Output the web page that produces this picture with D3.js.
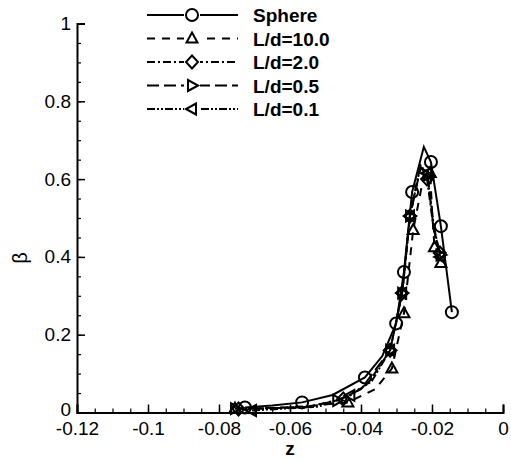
<!DOCTYPE html>
<html>
<head>
<meta charset="utf-8">
<script src="https://cdn.jsdelivr.net/npm/d3@7"></script>
<style>
	body { margin: 0; background: #fff; }
	text { font-family: "Liberation Sans", Arial, sans-serif; }
</style>
</head>
<body>
<div id="viz"></div>
<script>
// data
let seriesNames = ["Sphere", "L/d=10.0", "L/d=2.0", "L/d=0.5", "L/d=0.1"];

let sphereZ    = [-0.0727, -0.065, -0.0566, -0.048, -0.0389, -0.034, -0.0301, -0.0279, -0.0256, -0.0223, -0.0203, -0.0175, -0.0144];
let sphereBeta = [0.013, 0.018, 0.026, 0.045, 0.090, 0.145, 0.229, 0.361, 0.567, 0.683, 0.644, 0.479, 0.258];
let sphereMarks = [0, 2, 4, 6, 7, 8, 10, 11, 12];

let ld10Z    = [-0.0755, -0.065, -0.055, -0.0437, -0.036, -0.0313, -0.0279, -0.0253, -0.0225, -0.0205, -0.0200, -0.0193, -0.0175];
let ld10Beta = [0.010, 0.012, 0.016, 0.026, 0.060, 0.113, 0.255, 0.469, 0.600, 0.616, 0.520, 0.425, 0.384];
let ld10Marks = [0, 3, 5, 6, 7, 9, 11, 12];

let ld2Z    = [-0.0745, -0.065, -0.055, -0.045, -0.038, -0.0318, -0.0284, -0.0262, -0.0235, -0.0214, -0.0195, -0.0178];
let ld2Beta = [0.009, 0.011, 0.015, 0.035, 0.075, 0.160, 0.307, 0.505, 0.625, 0.600, 0.470, 0.410];
let ld2Marks = [0, 3, 5, 6, 7, 9, 11];

let ld05Z    = [-0.0755, -0.065, -0.055, -0.0467, -0.040, -0.0318, -0.0284, -0.0262, -0.0232, -0.0212, -0.0195, -0.0176];
let ld05Beta = [0.010, 0.011, 0.014, 0.031, 0.060, 0.160, 0.307, 0.505, 0.630, 0.610, 0.470, 0.405];
let ld05Marks = [0, 3, 5, 6, 7, 9, 11];

let ld01Z    = [-0.0707, -0.062, -0.052, -0.043, -0.037, -0.0318, -0.0284, -0.0262, -0.0232, -0.0214, -0.0195, -0.0177];
let ld01Beta = [0.005, 0.010, 0.015, 0.044, 0.080, 0.160, 0.307, 0.505, 0.635, 0.615, 0.480, 0.400];
let ld01Marks = [0, 3, 5, 6, 7, 9, 11];

let xTicks = [-0.12, -0.1, -0.08, -0.06, -0.04, -0.02, 0];
let yTicks = [0, 0.2, 0.4, 0.6, 0.8, 1];

function draw() {
	let sizeX = 511, sizeY = 461;
	let left = 77, right = 503, top = 23.5, bottom = 412.5;

	let grph = d3.select("#viz").append("svg")
		.attr("width", sizeX).attr("height", sizeY);

	let x = d3.scaleLinear().domain([-0.12, 0]).range([left, right]);
	let y = d3.scaleLinear().domain([0, 1]).range([bottom, top]);

	// axes, ticks pointing inward
	let xMinor = d3.range(-0.12, 0.0001, 0.005).map(v => +v.toFixed(3));
	let yMinor = d3.range(0, 1.0001, 0.05).map(v => +v.toFixed(2));

	let xa = grph.append("g").attr("transform", "translate(0," + bottom + ")");
	xa.call(d3.axisBottom(x).tickValues(xMinor).tickSize(-4).tickFormat(""));
	xa.call(g => g.selectAll(".tick line").attr("stroke-width", 1.2));
	let xb = grph.append("g").attr("transform", "translate(0," + bottom + ")");
	xb.call(d3.axisBottom(x).tickValues(xTicks).tickSize(-8).tickPadding(9)
		.tickFormat(d => d === 0 ? "0" : String(d)));
	xb.select(".domain").attr("stroke-width", 2);
	xb.selectAll(".tick line").attr("stroke-width", 1.5);
	xb.selectAll(".tick text").attr("font-size", 19).attr("fill", "#000")
		.attr("font-family", "Liberation Sans, Arial, sans-serif");

	let ya = grph.append("g").attr("transform", "translate(" + left + ",0)");
	ya.call(d3.axisLeft(y).tickValues(yMinor).tickSize(-4).tickFormat(""));
	ya.call(g => g.selectAll(".tick line").attr("stroke-width", 1.2));
	let yb = grph.append("g").attr("transform", "translate(" + left + ",0)");
	yb.call(d3.axisLeft(y).tickValues(yTicks).tickSize(-8).tickPadding(6)
		.tickFormat(d => String(d)));
	yb.select(".domain").attr("stroke-width", 2);
	yb.selectAll(".tick line").attr("stroke-width", 1.5);
	yb.selectAll(".tick text").attr("font-size", 19).attr("fill", "#000")
		.attr("font-family", "Liberation Sans, Arial, sans-serif");
	// lift the "0" a little so it clears the x labels
	yb.selectAll(".tick text").filter(d => d === 0).attr("dy", "0.15em");

	grph.selectAll(".domain").attr("stroke", "#000");

	grph.append("text").text("z")
		.attr("x", 290).attr("y", 455)
		.attr("text-anchor", "middle")
		.style("font-size", "19px").style("font-weight", "bold");

	grph.append("text").text("β")
		.attr("transform", "translate(27,258) rotate(-90)")
		.attr("text-anchor", "middle")
		.style("font-size", "20px");

	// series
	let series = [
		{ z: sphereZ, b: sphereBeta, marks: sphereMarks, dash: null, sym: "circle" },
		{ z: ld10Z, b: ld10Beta, marks: ld10Marks, dash: "8,7", sym: "triUp" },
		{ z: ld2Z, b: ld2Beta, marks: ld2Marks, dash: "8,3,2,3", sym: "diamond" },
		{ z: ld05Z, b: ld05Beta, marks: ld05Marks, dash: "12,5", sym: "triRight" },
		{ z: ld01Z, b: ld01Beta, marks: ld01Marks, dash: "8,2,2,2,2,2", sym: "triLeft" }
	];

	function symbolPath(sym) {
		if (sym === "triUp") return "M0,-6L5.5,4L-5.5,4Z";
		if (sym === "triRight") return "M6,0L-4,5.5L-4,-5.5Z";
		if (sym === "triLeft") return "M-6,0L4,5.5L4,-5.5Z";
		if (sym === "diamond") return "M0,-6.5L6,0L0,6.5L-6,0Z";
	}

	function addMarker(g, sym, cx, cy) {
		if (sym === "circle") {
			g.append("circle").attr("cx", cx).attr("cy", cy).attr("r", 6)
				.attr("fill", "none").attr("stroke", "#000").attr("stroke-width", 2);
		} else {
			g.append("path").attr("d", symbolPath(sym))
				.attr("transform", "translate(" + cx + "," + cy + ")")
				.attr("fill", "none").attr("stroke", "#000").attr("stroke-width", 2);
		}
	}

	let line = d3.line().x(d => x(d[0])).y(d => y(d[1]));

	series.slice().reverse().forEach(s => {
		let pts = s.z.map((v, i) => [v, s.b[i]]);
		let g = grph.append("g");
		g.append("path").attr("d", line(pts))
			.attr("fill", "none").attr("stroke", "#000").attr("stroke-width", 2)
			.attr("stroke-dasharray", s.dash);
		s.marks.forEach(i => addMarker(g, s.sym, x(pts[i][0]), y(pts[i][1])));
	});

	// legend
	let legY = d3.scaleLinear().domain([0, 4]).range([15, 109]);
	series.forEach((s, i) => {
		let g = grph.append("g");
		let ly = legY(i);
		g.append("line").attr("x1", 147).attr("y1", ly).attr("x2", 238).attr("y2", ly)
			.attr("stroke", "#000").attr("stroke-width", 2)
			.attr("stroke-dasharray", s.dash);
		g.append("rect").attr("x", 184).attr("y", ly - 8).attr("width", 16).attr("height", 16)
			.attr("fill", "#fff");
		addMarker(g, s.sym, 192, ly);
		g.append("text").text(seriesNames[i])
			.attr("x", 253).attr("y", ly + 7)
			.style("font-size", "19px").style("font-weight", "bold");
	});
}
draw();
</script>
</body>
</html>
